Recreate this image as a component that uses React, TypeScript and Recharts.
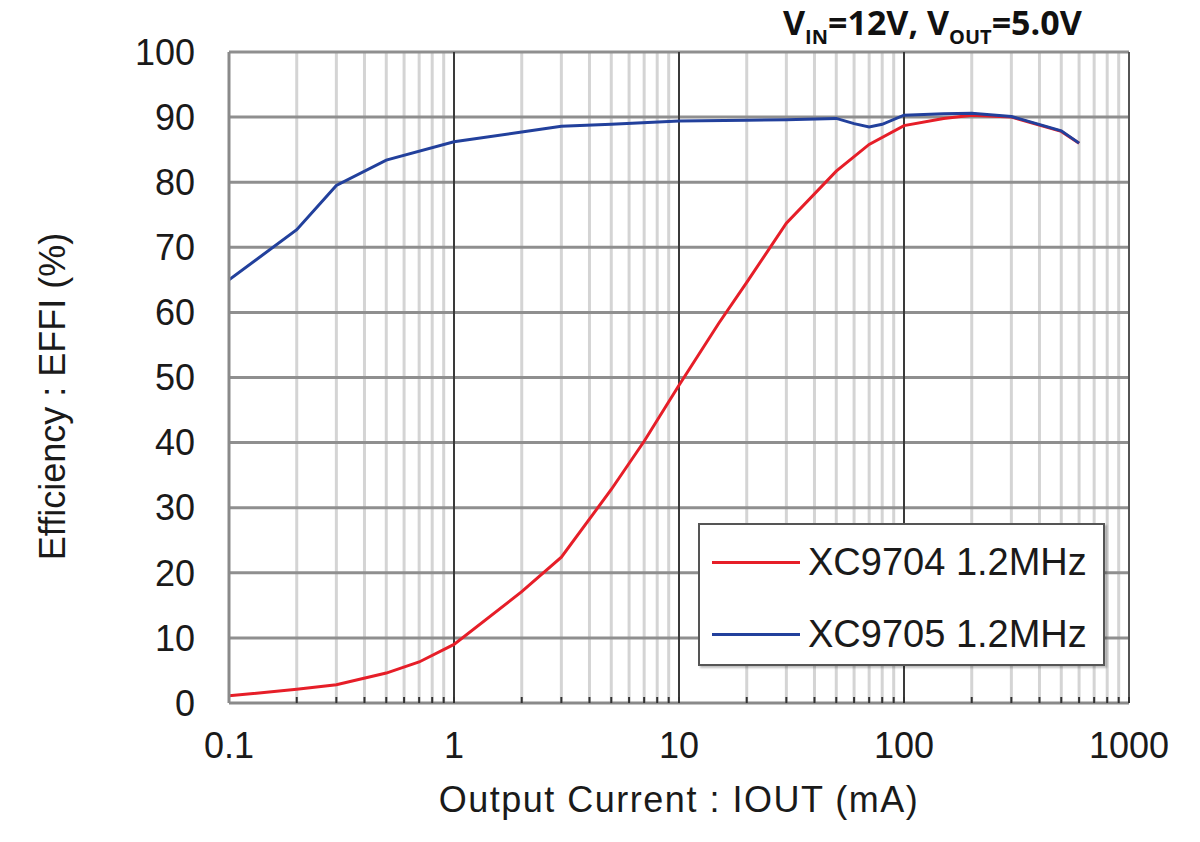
import { LineChart, Line, XAxis, YAxis, ReferenceLine, Legend } from 'recharts'

// Output current (mA) and efficiency (%)
const iout9704 = [0.1, 0.2, 0.3, 0.5, 0.7, 1, 2, 3, 5, 7, 10, 15, 20, 30, 50, 70, 100, 150, 200, 300, 500, 600]
const eff9704 = [1.1, 2.1, 2.8, 4.6, 6.3, 9.0, 17.1, 22.4, 32.8, 40.2, 48.8, 58.3, 64.6, 73.7, 81.7, 85.8, 88.7, 89.8, 90.3, 90.0, 87.8, 86.0]

const iout9705 = [0.1, 0.2, 0.3, 0.5, 1, 2, 3, 5, 10, 20, 30, 50, 60, 70, 80, 100, 150, 200, 300, 500, 600]
const eff9705 = [65.0, 72.7, 79.5, 83.4, 86.2, 87.7, 88.6, 88.9, 89.4, 89.5, 89.6, 89.8, 89.0, 88.5, 88.9, 90.3, 90.5, 90.6, 90.1, 87.9, 86.0]

const decadeTicks = [0.1, 1, 10, 100, 1000]
const minorTicks = [
  0.2, 0.3, 0.4, 0.5, 0.6, 0.7, 0.8, 0.9,
  2, 3, 4, 5, 6, 7, 8, 9,
  20, 30, 40, 50, 60, 70, 80, 90,
  200, 300, 400, 500, 600, 700, 800, 900,
]
const effTicks = [0, 10, 20, 30, 40, 50, 60, 70, 80, 90, 100]

const red = '#e61e28'
const blue = '#22409c'
const font = '"Liberation Sans", Arial, sans-serif'

const toRows = (xs: number[], ys: number[]) => xs.map((x, i) => ({ iout: x, eff: ys[i] }))
const data9704 = toRows(iout9704, eff9704)
const data9705 = toRows(iout9705, eff9705)

function XTick({ x, y, payload }: any) {
  if (!decadeTicks.includes(payload.value)) return <g />
  return (
    <text x={x} y={y} dy="0.71em" textAnchor="middle" fontSize={36} fontFamily={font} fill="#1a1a1a">
      {String(payload.value)}
    </text>
  )
}

function YLabel({ viewBox }: any) {
  const cx = 52
  const cy = viewBox.y + viewBox.height / 2 + 19
  return (
    <text
      x={cx}
      y={cy}
      transform={`rotate(-90 ${cx} ${cy})`}
      textAnchor="middle"
      dominantBaseline="central"
      fontSize={36}
      fontFamily={font}
      fill="#1a1a1a"
    >
      Efficiency : EFFI (%)
    </text>
  )
}

function XLabel({ viewBox }: any) {
  const cx = viewBox.x + viewBox.width / 2
  return (
    <text x={cx} y={812} textAnchor="middle" fontSize={36} fontFamily={font} fill="#1a1a1a" letterSpacing={1.5}>
      Output Current : IOUT (mA)
    </text>
  )
}

function LegendBox({ payload }: any) {
  return (
    <div
      style={{
        width: 403,
        height: 139,
        border: '2px solid #555',
        background: '#fff',
        boxShadow: '2px 2px 2px rgba(0,0,0,0.25)',
        fontFamily: font,
        fontSize: 38,
        color: '#1a1a1a',
        position: 'relative',
      }}
    >
      {(payload || []).map((p: any, i: number) => (
        <div key={p.value} style={{ position: 'absolute', left: 0, top: 37 + i * 72 - 22, height: 44, display: 'flex', alignItems: 'center' }}>
          <div style={{ marginLeft: 12, width: 88, height: 3, background: p.color }} />
          <span style={{ marginLeft: 8, lineHeight: '44px' }}>{p.value}</span>
        </div>
      ))}
    </div>
  )
}

const sub = { fontSize: 20, position: 'relative' as const, top: 9 }

export default function App() {
  return (
    <div style={{ position: 'absolute', left: 0, top: 0, width: 1200, height: 842, background: '#fff' }}>
      <LineChart width={1200} height={842} margin={{ top: 52, right: 71, bottom: 79, left: 109 }}>
        <XAxis
          dataKey="iout"
          type="number"
          scale="log"
          domain={[0.1, 1000]}
          ticks={[...decadeTicks, ...minorTicks]}
          allowDataOverflow
          height={60}
          interval={0}
          tickSize={-6}
          tickMargin={35}
          tickLine={{ stroke: '#333', strokeWidth: 2 }}
          axisLine={{ stroke: '#8a8a8a', strokeWidth: 3 }}
          tick={<XTick />}
          label={<XLabel />}
        />
        <YAxis
          type="number"
          domain={[0, 100]}
          ticks={effTicks}
          interval={0}
          width={120}
          tickLine={false}
          tickSize={6}
          tickMargin={28}
          axisLine={{ stroke: '#8a8a8a', strokeWidth: 3 }}
          tick={{ fontSize: 36, fontFamily: font, fill: '#1a1a1a' }}
          label={<YLabel />}
        />
        {minorTicks.map((v) => (
          <ReferenceLine key={'m' + v} x={v} stroke="#d4d4d4" strokeWidth={3} />
        ))}
        {effTicks.slice(1).map((v) => (
          <ReferenceLine key={'h' + v} y={v} stroke="#8f8f8f" strokeWidth={3} />
        ))}
        {[1, 10, 100].map((v) => (
          <ReferenceLine key={'d' + v} x={v} stroke="#3a3a3a" strokeWidth={2} />
        ))}
        <ReferenceLine x={1000} stroke="#555" strokeWidth={2} />
        <Legend
          layout="vertical"
          align="center"
          verticalAlign="middle"
          content={<LegendBox />}
          wrapperStyle={{ left: 698, top: 523, width: 407 }}
        />
        <Line data={data9704} dataKey="eff" name="XC9704 1.2MHz" type="linear" stroke={red} strokeWidth={3} dot={false} isAnimationActive={false} />
        <Line data={data9705} dataKey="eff" name="XC9705 1.2MHz" type="linear" stroke={blue} strokeWidth={3} dot={false} isAnimationActive={false} />
      </LineChart>
      <div
        style={{
          position: 'absolute',
          left: 783,
          top: 4,
          fontFamily: '"Open Sans", sans-serif',
          fontWeight: 700,
          fontSize: 34,
          lineHeight: '36px',
          color: '#111',
          whiteSpace: 'nowrap',
        }}
      >
        V<span style={sub}>IN</span>=12V, V<span style={sub}>OUT</span>=5.0V
      </div>
    </div>
  )
}
